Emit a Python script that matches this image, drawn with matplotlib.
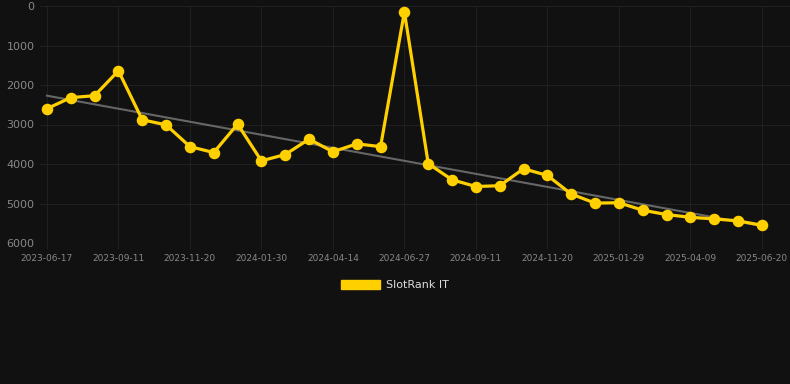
import matplotlib
matplotlib.use("Agg")
import matplotlib.pyplot as plt
import numpy as np

dates = ["2023-06-17", "2023-07-16", "2023-08-13", "2023-09-11", "2023-10-05", "2023-10-28",
         "2023-11-20", "2023-12-14", "2024-01-06", "2024-01-30", "2024-02-24", "2024-03-20",
         "2024-04-14", "2024-05-08", "2024-06-02", "2024-06-27", "2024-07-22", "2024-08-16",
         "2024-09-11", "2024-10-04", "2024-10-27", "2024-11-20", "2024-12-13", "2025-01-05",
         "2025-01-29", "2025-02-21", "2025-03-16", "2025-04-09", "2025-05-03", "2025-05-27",
         "2025-06-20"]
ranks = [2600, 2320, 2270, 1640, 2880, 3010, 3560, 3710, 2990, 3920, 3760, 3370,
         3690, 3490, 3560, 150, 3990, 4400, 4570, 4550, 4120, 4290, 4760, 4990,
         4980, 5170, 5280, 5350, 5390, 5440, 5550]
trend_start, trend_end = 2270, 5570
tick_labels = ["2023-06-17", "2023-09-11", "2023-11-20", "2024-01-30", "2024-04-14",
               "2024-06-27", "2024-09-11", "2024-11-20", "2025-01-29", "2025-04-09",
               "2025-06-20"]
series_name = "SlotRank IT"

bg = "#111111"
yellow = "#FFD000"
fig = plt.figure(figsize=(7.9, 3.84), dpi=100, facecolor=bg)
ax = fig.add_axes([40/790, 1-243/384, 750/790, 237/384], facecolor=bg)

x = np.arange(len(ranks))
ax.plot([x[0], x[-1]], [trend_start, trend_end], color="#666666", lw=1.5, zorder=2)
ax.plot(x, ranks, color=yellow, lw=2.3, marker="o", ms=7.3, zorder=3, label=series_name)

ax.set_ylim(6000, 0)
ax.set_yticks(range(0, 6001, 1000))
ax.set_xlim(-0.29, 31.18)
ax.set_xticks(np.arange(0, len(ranks), 3))
ax.set_xticklabels(tick_labels)

for s in ax.spines.values():
    s.set_visible(False)
ax.grid(True, color="#202020", lw=0.8)
ax.set_axisbelow(True)
ax.tick_params(axis="y", length=0, pad=4, labelsize=8, labelcolor="#888888")
ax.tick_params(axis="x", length=4, color="#202020", pad=4, labelsize=6.5, labelcolor="#888888")

leg = fig.legend(handles=[plt.Rectangle((0, 0), 1, 1, color=yellow)], labels=[series_name],
                 loc="center", bbox_to_anchor=(0.5, 1-285/384), frameon=False,
                 handlelength=3.5, handleheight=0.95, handletextpad=0.6, fontsize=8,
                 labelcolor="#dddddd")

fig.savefig("out.png", dpi=100, facecolor=bg)
